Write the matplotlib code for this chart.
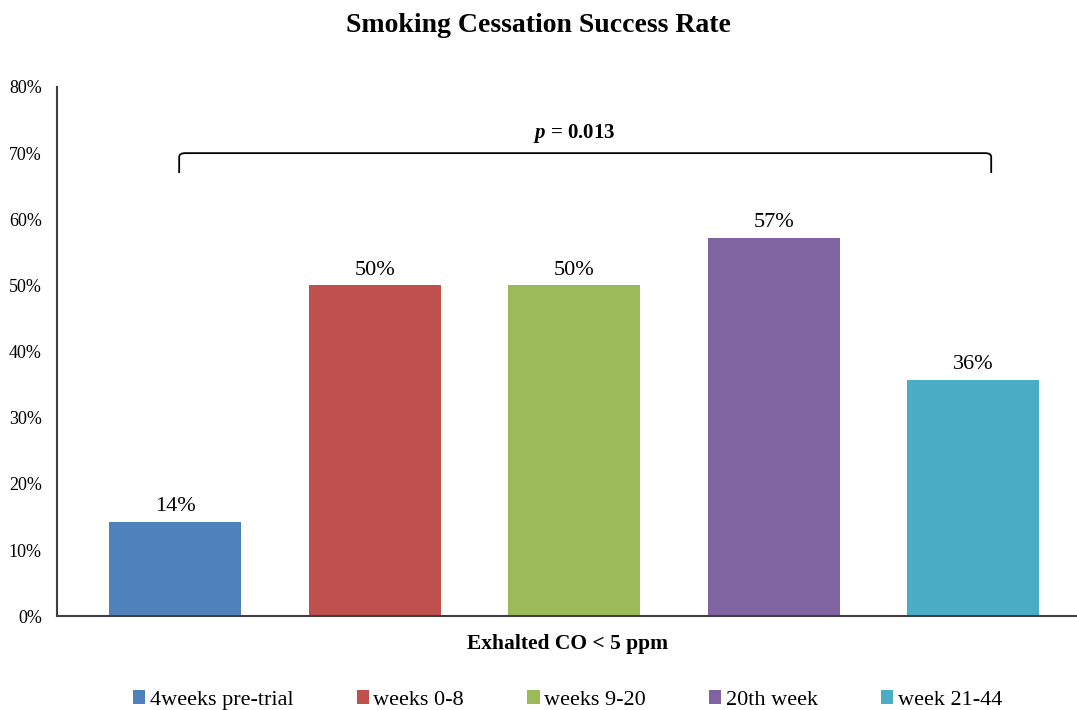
import matplotlib.pyplot as plt
import matplotlib.patches as mpatches
from matplotlib.path import Path
import numpy as np

plt.rcParams['font.family'] = ['Liberation Serif', 'DejaVu Serif']
plt.rcParams['mathtext.fontset'] = 'custom'
plt.rcParams['mathtext.it'] = 'Liberation Serif:italic:bold'

# --- Data ---
periods = ['4weeks pre-trial', 'weeks 0-8', 'weeks 9-20', '20th week', 'week 21-44']
success_rate = [1 / 7, 7 / 14, 7 / 14, 8 / 14, 5 / 14]
colors = ['#4F81BD', '#C0504D', '#9BBB59', '#8064A2', '#4BACC6']
yticks = [0, 0.1, 0.2, 0.3, 0.4, 0.5, 0.6, 0.7, 0.8]
p_label = 'p'
p_value = '0.013'

fig = plt.figure(figsize=(10.77, 7.1), dpi=100)
ax = fig.add_axes([0.053, 0.132, 0.947, 0.7455])

x = np.arange(len(periods))
bars = ax.bar(x, success_rate, width=0.662, color=colors, label=periods, zorder=2)

for xi, v in zip(x, success_rate):
    ax.text(xi, v + 0.009, f'{v:.0%}', ha='center', va='bottom', fontsize=16)

ax.set_xlim(-0.592, 4.52)
ax.set_ylim(0, 0.8)
ax.set_yticks(yticks)
ax.set_yticklabels([f'{t:.0%}' for t in yticks], fontsize=13)
ax.set_xticks([])
ax.tick_params(axis='y', length=0, pad=11)

for s in ['top', 'right']:
    ax.spines[s].set_visible(False)
for s in ['left', 'bottom']:
    ax.spines[s].set_color('#404040')
    ax.spines[s].set_linewidth(1.5)

# significance bracket spanning all periods
x0, x1 = 0.02, 4.09
ytop, ybot, r = 0.70, 0.67, 0.006
verts = [(x0, ybot), (x0, ytop - r), (x0, ytop), (x0 + 0.03, ytop),
         (x1 - 0.03, ytop), (x1, ytop), (x1, ytop - r), (x1, ybot)]
codes = [Path.MOVETO, Path.LINETO, Path.CURVE3, Path.CURVE3,
         Path.LINETO, Path.CURVE3, Path.CURVE3, Path.LINETO]
ax.add_patch(mpatches.PathPatch(Path(verts, codes), fill=False, lw=1.3, color='black'))
ax.text(2, 0.73, f'${p_label}$ = {p_value}', ha='center', va='center',
        fontsize=15, fontweight='bold')

ax.set_xlabel('Exhalted CO < 5 ppm', fontsize=15.5, fontweight='bold', labelpad=13)
fig.suptitle('Smoking Cessation Success Rate', fontsize=20, fontweight='bold', y=0.982)

fig.legend(handles=bars, labels=periods, loc='lower center', bbox_to_anchor=(0.527, -0.028),
           ncol=5, frameon=False, fontsize=16, handlelength=0.55, handleheight=0.55,
           handletextpad=0.2, columnspacing=2.85)

fig.savefig('out.png', dpi=100)
